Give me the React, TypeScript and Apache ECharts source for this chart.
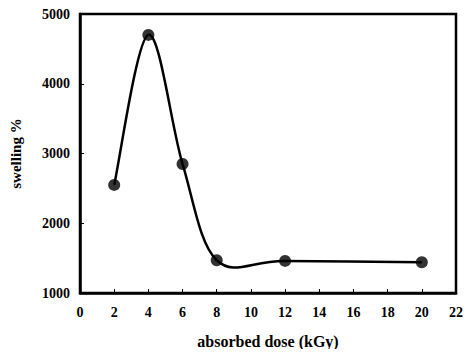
import React, { useEffect, useRef } from "react";
import * as echarts from "echarts";

const doses = [2, 4, 6, 8, 12, 20];
const swelling = [2550, 4700, 2850, 1470, 1460, 1440];
const xTicks = { min: 0, max: 22, interval: 2 };
const yTicks = { min: 1000, max: 5000, interval: 1000 };

export default function App() {
  const ref = useRef<HTMLDivElement>(null);
  useEffect(() => {
    if (!ref.current) return;
    const chart = echarts.init(ref.current, null, { renderer: "svg" });
    const font = "'Liberation Serif', 'Times New Roman', serif";
    const n = doses.length;
    const pts = doses.map((d, i) => [d, swelling[i]]);
    chart.setOption({
      animation: false,
      backgroundColor: "#fff",
      grid: { left: 77, right: 16, top: 14, bottom: 64, show: true, borderColor: "#000", borderWidth: 2.5 },
      xAxis: {
        type: "value",
        ...xTicks,
        name: "absorbed dose (kGy)",
        nameLocation: "middle",
        nameGap: 40,
        nameTextStyle: { fontFamily: font, fontWeight: "bold", fontSize: 16, color: "#000" },
        axisLine: { lineStyle: { color: "#000", width: 2.5 } },
        axisTick: { inside: true, length: 4, lineStyle: { color: "#000", width: 1 } },
        axisLabel: { fontFamily: font, fontWeight: "bold", fontSize: 14, color: "#000", margin: 12 },
        splitLine: { show: false },
      },
      yAxis: {
        type: "value",
        ...yTicks,
        name: "swelling %",
        nameLocation: "middle",
        nameGap: 57,
        nameTextStyle: { fontFamily: font, fontWeight: "bold", fontSize: 15, color: "#000" },
        axisLine: { show: true, lineStyle: { color: "#000", width: 2.5 } },
        axisTick: { show: true, inside: true, length: 4, lineStyle: { color: "#000", width: 1 } },
        axisLabel: {
          fontFamily: font,
          fontWeight: "bold",
          fontSize: 14,
          color: "#000",
          margin: 10,
          formatter: (v: number) => String(v),
        },
        splitLine: { show: false },
      },
      series: [
        {
          type: "custom",
          data: pts,
          z: 2,
          renderItem: (params: any, api: any) => {
            const i = params.dataIndex;
            if (i >= n - 1) return { type: "group", children: [] };
            const p = (k: number) => api.coord(pts[Math.max(0, Math.min(n - 1, k))]);
            const P0 = p(i - 1);
            const P1 = p(i);
            const P2 = p(i + 1);
            const P3 = p(i + 2);
            const cp1x = P1[0] + (P2[0] - P0[0]) / 6;
            const cp1y = P1[1] + (P2[1] - P0[1]) / 6;
            const cp2x = P2[0] - (P3[0] - P1[0]) / 6;
            const cp2y = P2[1] - (P3[1] - P1[1]) / 6;
            return {
              type: "bezierCurve",
              shape: { x1: P1[0], y1: P1[1], x2: P2[0], y2: P2[1], cpx1: cp1x, cpy1: cp1y, cpx2: cp2x, cpy2: cp2y },
              style: { stroke: "#000", lineWidth: 2.5, fill: null },
              silent: true,
            };
          },
        },
        {
          type: "scatter",
          data: pts,
          z: 3,
          symbol: "circle",
          symbolSize: 12,
          itemStyle: { color: "#000" },
        },
      ],
    });
    return () => chart.dispose();
  }, []);
  return <div ref={ref} style={{ width: 472, height: 357, margin: -8 }} />;
}
